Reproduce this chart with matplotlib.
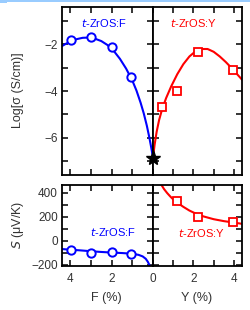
import matplotlib
matplotlib.use("Agg")
import matplotlib.pyplot as plt
from matplotlib.patches import Rectangle

plt.rcParams['font.family'] = ['Liberation Sans', 'DejaVu Sans']
plt.rcParams['font.size'] = 8

BLUE = '#0000ff'
RED = '#ff0000'

# conductivity, log[sigma (S/cm)]
f_pct = [3.95, 2.98, 2.0, 1.04]
f_logsig = [-1.83, -1.70, -2.13, -3.42]
y_pct = [0.44, 1.17, 2.2, 3.95]
y_logsig = [-4.68, -3.98, -2.31, -3.10]
undoped_logsig = -6.86

# guide curves
f_curve_x = [4.45, 4.2, 4.0, 3.7, 3.4, 3.1, 2.8, 2.5, 2.2, 1.9, 1.6, 1.3, 1.0, 0.8, 0.6, 0.45, 0.3, 0.18, 0.08, 0.0]
f_curve_y = [-2.10, -1.97, -1.88, -1.78, -1.72, -1.71, -1.76, -1.86, -2.03, -2.28, -2.62, -3.04, -3.55, -3.98, -4.50, -4.95, -5.48, -5.98, -6.45, -6.86]
y_curve_x = [0.0, 0.08, 0.18, 0.3, 0.45, 0.65, 0.9, 1.2, 1.5, 1.8, 2.1, 2.4, 2.7, 3.0, 3.3, 3.6, 3.9, 4.2, 4.45]
y_curve_y = [-6.86, -6.3, -5.75, -5.25, -4.78, -4.30, -3.80, -3.28, -2.85, -2.52, -2.30, -2.20, -2.20, -2.32, -2.52, -2.76, -3.03, -3.32, -3.56]

# Seebeck coefficient, S (uV/K)
f_seebeck = [-75, -103, -92, -106]
y_seebeck = [335, 201, 159]
y_pct_s = [1.17, 2.2, 3.95]
fs_curve_x = [4.45, 4.0, 3.5, 3.0, 2.5, 2.0, 1.5, 1.0, 0.7, 0.5, 0.35, 0.25, 0.15]
fs_curve_y = [-68, -74, -80, -87, -93, -98, -102, -108, -117, -130, -150, -175, -210]
ys_curve_x = [0.42, 0.55, 0.7, 0.85, 1.0, 1.2, 1.5, 1.8, 2.1, 2.5, 3.0, 3.5, 4.0, 4.45]
ys_curve_y = [465, 430, 398, 370, 345, 318, 283, 252, 228, 203, 180, 164, 152, 140]

fig = plt.figure(figsize=(2.5, 3.1), dpi=100)

L, C, R = 62 / 250, 153 / 250, 242 / 250
top_b, top_h = 1 - 175 / 310, 168 / 310
bot_b, bot_h = 1 - 266 / 310, 81 / 310

ax_tl = fig.add_axes([L, top_b, C - L, top_h])
ax_tr = fig.add_axes([C, top_b, R - C, top_h])
ax_bl = fig.add_axes([L, bot_b, C - L, bot_h])
ax_br = fig.add_axes([C, bot_b, R - C, bot_h])

for ax in (ax_tl, ax_tr, ax_bl, ax_br):
    for s in ax.spines.values():
        s.set_linewidth(1.3)
    ax.tick_params(which='both', direction='in', top=True, right=True,
                   width=1.1, length=4, labelcolor='#333333', labelsize=8.5)
    ax.tick_params(axis='x', pad=5)
    ax.tick_params(axis='y', pad=3)

for ax in (ax_tl, ax_bl):
    ax.set_xlim(4.4, 0)
    ax.set_xticks([4, 2])
    ax.set_xticks([3, 1], minor=True)
for ax in (ax_tr, ax_br):
    ax.set_xlim(0, 4.4)
    ax.set_xticks([0, 2, 4])
    ax.set_xticks([1, 3], minor=True)
    ax.tick_params(labelleft=False)

for ax in (ax_tl, ax_tr):
    ax.set_ylim(-7.6, -0.4)
    ax.set_yticks([-6, -4, -2])
    ax.set_yticks([-7, -5, -3, -1], minor=True)
    ax.tick_params(labelbottom=False)
for ax in (ax_bl, ax_br):
    ax.set_ylim(-210, 465)
    ax.set_yticks([-200, 0, 200, 400])
    ax.set_yticks([-100, 100, 300], minor=True)

# top panels
ax_tl.plot(f_curve_x, f_curve_y, color=BLUE, lw=1.5, solid_joinstyle='round')
ax_tl.plot(f_pct, f_logsig, 'o', ms=6, mfc='white', mec=BLUE, mew=1.4)
ax_tr.plot(y_curve_x, y_curve_y, color=RED, lw=1.5, solid_joinstyle='round')
ax_tr.plot(y_pct, y_logsig, 's', ms=6, mfc='white', mec=RED, mew=1.3)
ax_tr.plot([0], [undoped_logsig], '*', ms=11, color='black', clip_on=False, zorder=5)

ax_tl.text(0.46, 0.905, '$t$-ZrOS:F', transform=ax_tl.transAxes, color=BLUE,
           ha='center', va='center', fontsize=8)
ax_tr.text(0.45, 0.905, '$t$-ZrOS:Y', transform=ax_tr.transAxes, color=RED,
           ha='center', va='center', fontsize=8)

# bottom panels
ax_bl.plot(fs_curve_x, fs_curve_y, color=BLUE, lw=1.5, solid_joinstyle='round')
ax_bl.plot(f_pct, f_seebeck, 'o', ms=6, mfc='white', mec=BLUE, mew=1.4)
ax_br.plot(ys_curve_x, ys_curve_y, color=RED, lw=1.5, solid_joinstyle='round')
ax_br.plot(y_pct_s, y_seebeck, 's', ms=6, mfc='white', mec=RED, mew=1.3)

ax_bl.text(0.56, 0.42, '$t$-ZrOS:F', transform=ax_bl.transAxes, color=BLUE,
           ha='center', va='center', fontsize=8)
ax_br.text(0.54, 0.41, '$t$-ZrOS:Y', transform=ax_br.transAxes, color=RED,
           ha='center', va='center', fontsize=8)

# axis labels
fig.text(18 / 250, 1 - 90 / 310, 'Log[σ (S/cm)]', rotation=90, ha='center', va='center',
         fontsize=9, color='#333333')
fig.text(18 / 250, 1 - 225 / 310, '$S$ (μV/K)', rotation=90, ha='center', va='center',
         fontsize=9, color='#333333')
fig.text(106 / 250, 1 - 298 / 310, 'F (%)', ha='center', va='center', fontsize=9, color='#333333')
fig.text(197 / 250, 1 - 298 / 310, 'Y (%)', ha='center', va='center', fontsize=9, color='#333333')

# light blue frame strip at the top edge
fig.add_artist(Rectangle((0, 1 - 2 / 310), 1, 2 / 310, transform=fig.transFigure,
                         color='#99ccff', lw=0))
fig.add_artist(Rectangle((0, 1 - 3 / 310), 7 / 250, 3 / 310, transform=fig.transFigure,
                         color='#99ccff', lw=0))

fig.savefig('out.png', dpi=100)
